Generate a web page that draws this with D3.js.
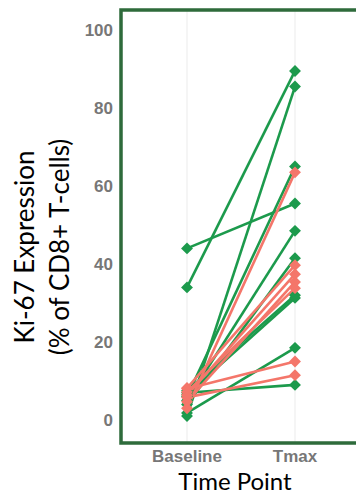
<!DOCTYPE html>
<html>
<head>
<meta charset="utf-8">
<script src="https://cdn.jsdelivr.net/npm/d3@7"></script>
<style>
  body { margin: 0; background: #fff; overflow: hidden; }
  svg { display: block; }
</style>
</head>
<body>
<div id="chart"></div>
<script>
// time points and tick labels
var timePoints = ["Baseline", "Tmax"];
var yTicks = [0, 20, 40, 60, 80, 100];

// per patient values (% Ki-67+ of CD8+ T-cells)
var greenBaseline = [44, 34, 1, 6, 5, 4, 7.5, 6.5, 1.8, 7];
var greenTmax     = [55.5, 89.5, 85.5, 65, 48.5, 41.5, 32, 31.3, 18.5, 9];
var redBaseline   = [3, 8.2, 6.4, 4.7, 7.2, 8, 5.8];
var redTmax       = [63.5, 39.7, 37.4, 35.4, 33.8, 15, 11.5];

var groups = [
    {color: "#1c9a4c", base: greenBaseline, tmax: greenTmax},
    {color: "#f4766a", base: redBaseline, tmax: redTmax}
];

var width = 356, height = 495;

var svg = d3.select("#chart").append("svg")
    .attr("width", width)
    .attr("height", height);

var x = d3.scalePoint()
    .domain(timePoints)
    .range([187, 295]);

var y = d3.scaleLinear()
    .domain([0, 100])
    .range([420, 30]);

// right edge of the panel lies outside the picture
var panel = {left: 121, right: width, top: y(105.1), bottom: y(-5.9)};

// vertical grid lines at each time point
svg.selectAll(".grid")
    .data(timePoints)
    .enter().append("line")
    .attr("class", "grid")
    .attr("x1", function (d) { return x(d); })
    .attr("x2", function (d) { return x(d); })
    .attr("y1", panel.top)
    .attr("y2", panel.bottom)
    .attr("stroke", "#ebebeb")
    .attr("stroke-width", 1);

var line = d3.line()
    .x(function (d) { return x(d.t); })
    .y(function (d) { return y(d.v); });

var diamond = d3.symbol().type(d3.symbolDiamond2).size(90);

groups.forEach(function (g) {
    var pats = g.base.map(function (b, i) {
        return [{t: "Baseline", v: b}, {t: "Tmax", v: g.tmax[i]}];
    });
    svg.append("g").selectAll("path")
        .data(pats)
        .enter().append("path")
        .attr("d", line)
        .attr("fill", "none")
        .attr("stroke", g.color)
        .attr("stroke-width", 2.6);
});

groups.forEach(function (g) {
    var pts = [];
    g.base.forEach(function (b, i) {
        pts.push({t: "Baseline", v: b});
        pts.push({t: "Tmax", v: g.tmax[i]});
    });
    svg.append("g").selectAll("path")
        .data(pts)
        .enter().append("path")
        .attr("d", diamond)
        .attr("transform", function (d) { return "translate(" + x(d.t) + "," + y(d.v) + ")"; })
        .attr("fill", g.color);
});

// panel border: left, top and bottom sides (right side is off the picture)
svg.append("path")
    .attr("d", "M" + panel.right + "," + panel.top +
               "H" + panel.left + "V" + panel.bottom + "H" + panel.right)
    .attr("fill", "none")
    .attr("stroke", "#2e6b3b")
    .attr("stroke-width", 3.5);

// y tick labels
svg.selectAll(".ytick")
    .data(yTicks)
    .enter().append("text")
    .attr("class", "ytick")
    .attr("x", 113)
    .attr("y", function (d) { return y(d); })
    .attr("dy", "0.36em")
    .attr("text-anchor", "end")
    .style("font-family", "Liberation Sans, Arial, sans-serif")
    .style("font-weight", "bold")
    .style("font-size", "17px")
    .attr("fill", "#777")
    .text(function (d) { return d; });

// x tick labels
svg.selectAll(".xtick")
    .data(timePoints)
    .enter().append("text")
    .attr("class", "xtick")
    .attr("x", function (d) { return x(d); })
    .attr("y", 462)
    .attr("text-anchor", "middle")
    .style("font-family", "Liberation Sans, Arial, sans-serif")
    .style("font-weight", "bold")
    .style("font-size", "17px")
    .attr("fill", "#777")
    .text(function (d) { return d; });

// axis titles
svg.append("text")
    .attr("x", 235)
    .attr("y", 490)
    .attr("text-anchor", "middle")
    .style("font-family", "Lato, sans-serif")
    .style("font-size", "24px")
    .attr("fill", "#000")
    .text("Time Point");

var ylab = svg.append("text")
    .attr("transform", "translate(0,247) rotate(-90)")
    .attr("text-anchor", "middle")
    .style("font-family", "Lato, sans-serif")
    .style("font-size", "26px")
    .attr("fill", "#000");
ylab.append("tspan").attr("x", 0).attr("y", 34).text("Ki-67 Expression");
ylab.append("tspan").attr("x", 0).attr("y", 69).text("(% of CD8+ T-cells)");
</script>
</body>
</html>
